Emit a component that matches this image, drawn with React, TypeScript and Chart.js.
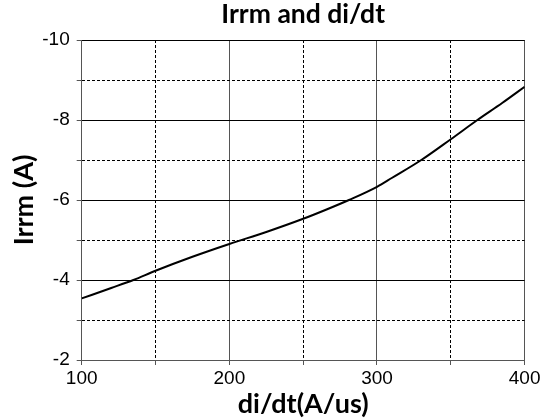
import React, { useEffect, useRef } from "react";
import { Chart, registerables } from "chart.js";

Chart.register(...registerables);

const chartTitle = "Irrm and di/dt";
const xAxisTitle = "di/dt(A/us)";
const yAxisTitle = "Irrm (A)";
const xValues = [100, 120, 135, 150, 175, 200, 225, 250, 265, 281, 300, 310, 330, 350, 368, 385, 400];
const irrmValues = [-3.54, -3.8, -4.0, -4.23, -4.58, -4.9, -5.2, -5.53, -5.75, -6.0, -6.33, -6.55, -7.0, -7.52, -8.0, -8.43, -8.83];
const xMin = 100;
const xMax = 400;
const xStep = 50;
const xLabelEvery = 100;
const yMin = -10;
const yMax = -2;
const yStep = 1;
const yLabelEvery = 2;

const TITLE_FONT = "Lato, 'Open Sans', sans-serif";
const TICK_FONT = "'Liberation Sans', Arial, sans-serif";

export default function App() {
  const canvasRef = useRef<HTMLCanvasElement | null>(null);

  useEffect(() => {
    const canvas = canvasRef.current;
    if (!canvas) return;
    const isMajorX = (v: number) => Math.abs(v % xLabelEvery) < 1e-6;
    const isMajorY = (v: number) => Math.abs(v % yLabelEvery) < 1e-6;

    const chart = new Chart(canvas, {
      type: "line",
      data: {
        datasets: [
          {
            data: xValues.map((x, i) => ({ x, y: irrmValues[i] })),
            borderColor: "#000",
            borderWidth: 2,
            pointRadius: 0,
            cubicInterpolationMode: "monotone",
            fill: false,
          },
        ],
      },
      options: {
        responsive: false,
        animation: false,
        layout: { padding: { left: 0, right: 16.3, top: 0, bottom: 0 } },
        plugins: {
          legend: { display: false },
          tooltip: { enabled: false },
          title: {
            display: true,
            fullSize: false,
            text: chartTitle,
            color: "#000",
            font: { family: TITLE_FONT, size: 26.5, weight: "bold", lineHeight: 1.1 },
            padding: { top: 0.2, bottom: 10.65 },
          },
        },
        scales: {
          x: {
            type: "linear",
            position: "bottom",
            min: xMin,
            max: xMax,
            afterFit: (s: any) => {
              s.height = 60;
            },
            ticks: {
              stepSize: xStep,
              autoSkip: false,
              maxRotation: 0,
              color: "#000",
              padding: 2.5,
              font: { family: TICK_FONT, size: 19 },
              callback: (v: any) => (isMajorX(Number(v)) ? String(v) : ""),
            },
            grid: {
              color: (ctx: any) => (ctx.tick && isMajorX(ctx.tick.value) ? "#555" : "rgba(0,0,0,0)"),
              tickColor: "#555",
              tickLength: 5,
              lineWidth: 1,
            },
            border: { display: true, color: "#555" },
            title: {
              display: true,
              text: xAxisTitle,
              color: "#000",
              font: { family: TITLE_FONT, size: 27, weight: "bold", lineHeight: 1.2 },
              padding: { top: 0.3, bottom: 0 },
            },
          },
          x2: {
            type: "linear",
            position: "bottom",
            min: xMin,
            max: xMax,
            afterFit: (s: any) => {
              s.height = 0;
            },
            ticks: { display: false, stepSize: xStep, autoSkip: false },
            grid: {
              drawTicks: false,
              color: (ctx: any) => (ctx.tick && !isMajorX(ctx.tick.value) ? "#000" : "rgba(0,0,0,0)"),
              lineWidth: 1,
            },
            border: { display: false, dash: [3, 2] },
          },
          y: {
            type: "linear",
            position: "left",
            reverse: true,
            min: yMin,
            max: yMax,
            afterFit: (s: any) => {
              s.width = 81.7;
            },
            ticks: {
              stepSize: yStep,
              autoSkip: false,
              color: "#000",
              padding: 7,
              font: { family: TICK_FONT, size: 19 },
              callback: (v: any) => (isMajorY(Number(v)) ? String(v) : ""),
            },
            grid: {
              color: (ctx: any) => (ctx.tick && isMajorY(ctx.tick.value) ? "#000" : "rgba(0,0,0,0)"),
              tickColor: "#555",
              tickLength: 5,
              lineWidth: 1,
            },
            border: { display: true, color: "#555" },
            title: {
              display: true,
              text: yAxisTitle,
              color: "#000",
              font: { family: TITLE_FONT, size: 27, weight: "bold", lineHeight: 1.2 },
              padding: { top: 8.1, bottom: 0 },
            },
          },
          y2: {
            type: "linear",
            position: "left",
            reverse: true,
            min: yMin,
            max: yMax,
            afterFit: (s: any) => {
              s.width = 0;
            },
            ticks: { display: false, stepSize: yStep, autoSkip: false },
            grid: {
              drawTicks: false,
              color: (ctx: any) => (ctx.tick && !isMajorY(ctx.tick.value) ? "#000" : "rgba(0,0,0,0)"),
              lineWidth: 1,
            },
            border: { display: false, dash: [3, 2] },
          },
        },
      } as any,
    });
    return () => chart.destroy();
  }, []);

  return (
    <div style={{ position: "fixed", left: 0, top: 0, width: 543, height: 420, background: "#fff" }}>
      <canvas ref={canvasRef} width={543} height={420} style={{ display: "block" }} />
    </div>
  );
}
